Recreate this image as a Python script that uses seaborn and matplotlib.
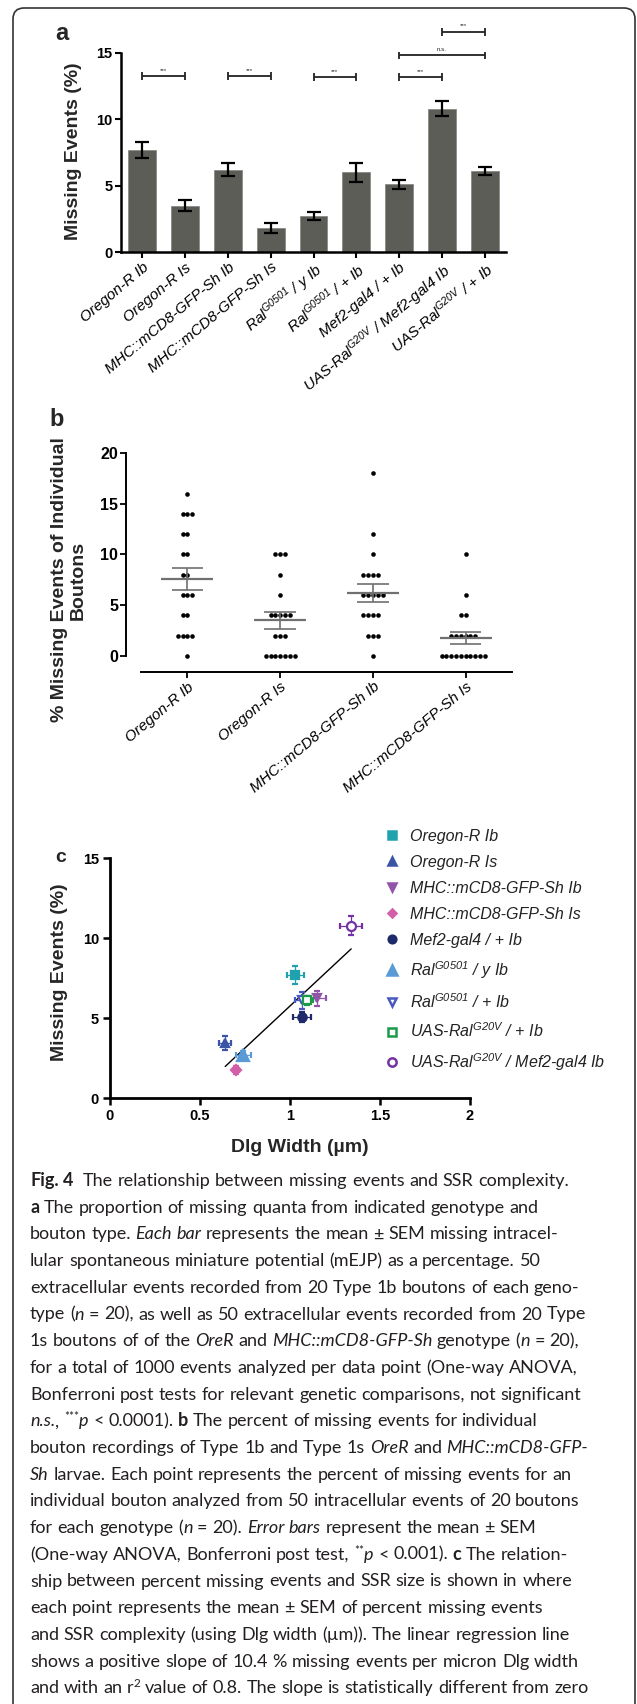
import numpy as np
import pandas as pd
import matplotlib
matplotlib.use('Agg')
import matplotlib.pyplot as plt
import matplotlib.transforms as mtransforms
from matplotlib.lines import Line2D
from matplotlib.patches import FancyBboxPatch
import seaborn as sns

W, H, DPI = 637, 1704, 100

# ---- panel a: missing events per genotype (mean +/- SEM)
BAR_LABELS = [
    'Oregon-R Ib', 'Oregon-R Is', 'MHC::mCD8-GFP-Sh Ib', 'MHC::mCD8-GFP-Sh Is',
    r'Ral$^{\mathit{G0501}}$ / y Ib', r'Ral$^{\mathit{G0501}}$ / + Ib', 'Mef2-gal4 / + Ib',
    r'UAS-Ral$^{\mathit{G20V}}$ / Mef2-gal4 Ib', r'UAS-Ral$^{\mathit{G20V}}$ / + Ib',
]
BAR_MEAN = [7.7, 3.5, 6.2, 1.8, 2.7, 6.0, 5.1, 10.8, 6.1]
BAR_SEM = [0.6, 0.4, 0.5, 0.35, 0.3, 0.7, 0.35, 0.55, 0.3]
SIG_PAIRS = [(0, 1), (2, 3), (4, 5), (6, 7), (6, 8), (7, 8)]
SIG_LEVEL = [13.25, 13.25, 13.15, 13.15, 14.8, 16.6]
SIG_TEXT = ['***', '***', '***', '***', 'n.s.', '***']

# ---- panel b: individual boutons
BOUTON_GROUPS = ['Oregon-R Ib', 'Oregon-R Is', 'MHC::mCD8-GFP-Sh Ib', 'MHC::mCD8-GFP-Sh Is']
OREGON_IB = [16, 14, 14, 14, 12, 12, 10, 10, 8, 8, 6, 6, 6, 4, 4, 2, 2, 2, 2, 0]
OREGON_IS = [10, 10, 10, 8, 6, 4, 4, 4, 4, 4, 2, 2, 2, 0, 0, 0, 0, 0, 0, 0]
MHC_IB = [18, 12, 10, 8, 8, 8, 8, 6, 6, 6, 6, 6, 4, 4, 4, 4, 2, 2, 2, 0]
MHC_IS = [10, 6, 4, 4, 2, 2, 2, 2, 2, 2, 0, 0, 0, 0, 0, 0, 0, 0, 0, 0]

# ---- panel c: missing events vs Dlg width
SSR_LABELS = [
    'Oregon-R Ib', 'Oregon-R Is', 'MHC::mCD8-GFP-Sh Ib', 'MHC::mCD8-GFP-Sh Is',
    'Mef2-gal4 / + Ib', r'Ral$^{\mathit{G0501}}$ / y Ib', r'Ral$^{\mathit{G0501}}$ / + Ib',
    r'UAS-Ral$^{\mathit{G20V}}$ / + Ib', r'UAS-Ral$^{\mathit{G20V}}$ / Mef2-gal4 Ib',
]
DLG_WIDTH = [1.03, 0.64, 1.15, 0.70, 1.065, 0.74, 1.065, 1.095, 1.34]
DLG_SEM = [0.046, 0.034, 0.05, 0.017, 0.05, 0.042, 0.04, 0.03, 0.06]
MISSING = [7.7, 3.46, 6.23, 1.77, 5.08, 2.71, 6.1, 6.1, 10.77]
MISSING_SEM = [0.57, 0.44, 0.45, 0.26, 0.3, 0.25, 0.55, 0.3, 0.59]

SSR_COLORS = ['#1fa2ad', '#3a55a6', '#9254a9', '#d25fa8', '#1e2a6c',
              '#5b9bd5', '#4858c0', '#1b9a4b', '#7433a3']
SSR_MARKERS = ['s', '^', 'v', 'D', 'o', '^', 'v', 's', 'o']
SSR_OPEN = [False, False, False, False, False, False, True, True, True]
SSR_MSIZE = [6, 6, 6, 5, 6, 8, 6, 6, 6.5]

# ---- caption (one list per printed line: (text, style))
CAPTION_LINES = [
    [('Fig. 4', 'b'), ('  The relationship between missing events and SSR complexity.', 'n')],
    [('a', 'b'), (' The proportion of missing quanta from indicated genotype and', 'n')],
    [('bouton type. ', 'n'), ('Each bar', 'i'), (' represents the mean \u00b1 SEM missing intracel-', 'n')],
    [('lular spontaneous miniature potential (mEJP) as a percentage. 50', 'n')],
    [('extracellular events recorded from 20 Type 1b boutons of each geno-', 'n')],
    [('type (', 'n'), ('n', 'i'), (' = 20), as well as 50 extracellular events recorded from 20 Type', 'n')],
    [('1s boutons of of the ', 'n'), ('OreR', 'i'), (' and ', 'n'), ('MHC::mCD8-GFP-Sh', 'i'),
     (' genotype (', 'n'), ('n', 'i'), (' = 20),', 'n')],
    [('for a total of 1000 events analyzed per data point (One-way ANOVA,', 'n')],
    [('Bonferroni post tests for relevant genetic comparisons, not significant', 'n')],
    [('n.s.', 'i'), (', ', 'n'), ('***', 's'), ('p', 'i'), (' < 0.0001). ', 'n'), ('b', 'b'),
     (' The percent of missing events for individual', 'n')],
    [('bouton recordings of Type 1b and Type 1s ', 'n'), ('OreR', 'i'), (' and ', 'n'), ('MHC::mCD8-GFP-', 'i')],
    [('Sh', 'i'), (' larvae. Each point represents the percent of missing events for an', 'n')],
    [('individual bouton analyzed from 50 intracellular events of 20 boutons', 'n')],
    [('for each genotype (', 'n'), ('n', 'i'), (' = 20). ', 'n'), ('Error bars', 'i'),
     (' represent the mean \u00b1 SEM', 'n')],
    [('(One-way ANOVA, Bonferroni post test, ', 'n'), ('**', 's'), ('p', 'i'), (' < 0.001). ', 'n'),
     ('c', 'b'), (' The relation-', 'n')],
    [('ship between percent missing events and SSR size is shown in where', 'n')],
    [('each point represents the mean \u00b1 SEM of percent missing events', 'n')],
    [('and SSR complexity (using Dlg width (\u00b5m)). The linear regression line', 'n')],
    [('shows a positive slope of 10.4 % missing events per micron Dlg width', 'n')],
    [('and with an r', 'n'), ('2', 's'), (' value of 0.8. The slope is statistically different from zero', 'n')],
]

sns.set_style('ticks')
plt.rcParams['font.family'] = ['Liberation Sans', 'DejaVu Sans']
plt.rcParams['mathtext.fontset'] = 'custom'
plt.rcParams['mathtext.it'] = 'Liberation Sans:italic'
plt.rcParams['mathtext.rm'] = 'Liberation Sans:italic'
plt.rcParams['axes.edgecolor'] = 'black'
plt.rcParams['xtick.color'] = 'black'
plt.rcParams['ytick.color'] = 'black'

fig = plt.figure(figsize=(W / DPI, H / DPI), dpi=DPI)
fig.patch.set_facecolor('white')


def fx(x):
    return x / W


def fy(y):
    return 1 - y / H


def box(left, top, right, bottom):
    return [left / W, 1 - bottom / H, (right - left) / W, (bottom - top) / H]


TICK_FONT = dict(fontweight='bold', fontsize=10.5)
LABEL_FONT = dict(fontweight='bold', fontsize=14)

# outer rounded frame (bottom edge runs just past the image)
px = mtransforms.Affine2D().scale(1 / W, 1 / H) + fig.transFigure
fig.patches.append(FancyBboxPatch((13, H - 1714), 622, 1706, boxstyle='round,pad=0,rounding_size=11',
                                  transform=px, fill=False, ec='#333333', lw=1.2))

# ================= panel a
ax_a = fig.add_axes(box(121, 13, 506, 252))
sns.barplot(x=BAR_LABELS, y=BAR_MEAN, color='#5c5d57', saturation=1, width=0.65,
            edgecolor='#8a8b86', linewidth=0.6, errorbar=None, ax=ax_a)
ax_a.errorbar(np.arange(len(BAR_MEAN)), BAR_MEAN, yerr=BAR_SEM, fmt='none', ecolor='black',
              elinewidth=1.6, capsize=5, capthick=1.6)
for (i, j), lvl, txt in zip(SIG_PAIRS, SIG_LEVEL, SIG_TEXT):
    ax_a.plot([i, j], [lvl, lvl], color='#222222', lw=1.3, solid_capstyle='butt')
    ax_a.vlines([i, j], lvl - 0.3, lvl + 0.3, color='#222222', lw=1.3)
    ax_a.text((i + j) / 2, lvl + 0.25, txt, ha='center', va='bottom', fontsize=4.5)
ax_a.set_xlim(-0.5, 8.5)
ax_a.set_ylim(0, 18)
ax_a.set_yticks([0, 5, 10, 15])
sns.despine(ax=ax_a)
ax_a.spines['left'].set_bounds(0, 15)
for s in ('left', 'bottom'):
    ax_a.spines[s].set_linewidth(1.8)
ax_a.tick_params(axis='both', length=4, width=1.5, pad=2)
ax_a.set_xlabel('')
ax_a.set_ylabel('')
for t in ax_a.get_yticklabels():
    t.set(**TICK_FONT)
for t in ax_a.get_xticklabels():
    t.set(rotation=40, ha='right', va='top', rotation_mode='anchor', fontstyle='italic', fontsize=11)
fig.text(fx(74), fy(151), 'Missing Events (%)', rotation=90, ha='center', va='center', **LABEL_FONT)
fig.text(fx(62), fy(33), 'a', ha='center', va='center', fontweight='bold', fontsize=17)

# ================= panel b
ax_b = fig.add_axes(box(141, 448, 512, 661))
bouton_df = pd.DataFrame({
    'group': np.repeat(BOUTON_GROUPS, [len(OREGON_IB), len(OREGON_IS), len(MHC_IB), len(MHC_IS)]),
    'value': OREGON_IB + OREGON_IS + MHC_IB + MHC_IS,
})
sns.swarmplot(data=bouton_df, x='group', y='value', order=BOUTON_GROUPS, color='black',
              size=3.3, linewidth=0, ax=ax_b)
stats = bouton_df.groupby('group')['value'].agg(['mean', 'sem']).reindex(BOUTON_GROUPS)
pos = np.arange(len(BOUTON_GROUPS))
grey = '#707070'
ax_b.hlines(stats['mean'], pos - 0.28, pos + 0.28, color=grey, lw=1.6, zorder=4)
ax_b.vlines(pos, stats['mean'] - stats['sem'], stats['mean'] + stats['sem'], color=grey, lw=1.2, zorder=4)
ax_b.hlines(stats['mean'] + stats['sem'], pos - 0.17, pos + 0.17, color=grey, lw=1.2, zorder=4)
ax_b.hlines(stats['mean'] - stats['sem'], pos - 0.17, pos + 0.17, color=grey, lw=1.2, zorder=4)
ax_b.set_xlim(-0.5, 3.5)
ax_b.set_ylim(-0.5, 20.5)
ax_b.set_yticks([0, 5, 10, 15, 20])
sns.despine(ax=ax_b)
ax_b.spines['left'].set_position(('outward', 10.8))
ax_b.spines['bottom'].set_position(('outward', 8))
ax_b.spines['left'].set_bounds(0, 20)
for s in ('left', 'bottom'):
    ax_b.spines[s].set_linewidth(1.4)
ax_b.tick_params(axis='both', length=4, width=1.3, pad=1.5)
ax_b.set_xlabel('')
ax_b.set_ylabel('')
for t in ax_b.get_yticklabels():
    t.set(fontweight='bold', fontsize=11.5)
for t in ax_b.get_xticklabels():
    t.set(rotation=40, ha='right', va='top', rotation_mode='anchor', fontstyle='italic', fontsize=11)
fig.text(fx(69), fy(580), '% Missing Events of Individual\nBoutons', rotation=90, ha='center',
         va='center', multialignment='center', linespacing=1.1, **LABEL_FONT)
fig.text(fx(57), fy(420), 'b', ha='center', va='center', fontweight='bold', fontsize=17)

# ================= panel c
ax_c = fig.add_axes(box(110, 858, 470, 1098))
sns.regplot(x=DLG_WIDTH, y=MISSING, scatter=False, ci=None, truncate=True, color='black',
            line_kws={'lw': 1.0, 'zorder': 1}, ax=ax_c)
handles = []
for i, lab in enumerate(SSR_LABELS):
    c = SSR_COLORS[i]
    face = 'white' if SSR_OPEN[i] else c
    ax_c.errorbar(DLG_WIDTH[i], MISSING[i], xerr=DLG_SEM[i], yerr=MISSING_SEM[i],
                  fmt=SSR_MARKERS[i], color=c, mfc=face, mec=c, ms=SSR_MSIZE[i], mew=1.6,
                  elinewidth=0.9, capsize=2.5, capthick=0.9, zorder=3)
    handles.append(Line2D([], [], ls='none', marker=SSR_MARKERS[i], color=c, mfc=face, mec=c,
                          ms=SSR_MSIZE[i] - 0.5, mew=1.8, label=lab))
ax_c.set_xlim(0, 2)
ax_c.set_ylim(0, 15)
ax_c.set_xticks([0, 0.5, 1, 1.5, 2])
ax_c.set_xticklabels(['0', '0.5', '1', '1.5', '2'])
ax_c.set_yticks([0, 5, 10, 15])
sns.despine(ax=ax_c)
for s in ('left', 'bottom'):
    ax_c.spines[s].set_linewidth(2.0)
ax_c.tick_params(axis='both', length=5, width=1.8, pad=3)
for t in ax_c.get_xticklabels() + ax_c.get_yticklabels():
    t.set(**TICK_FONT)
ax_c.set_xlabel('')
ax_c.set_ylabel('')
leg = ax_c.legend(handles=handles, loc='upper left', bbox_to_anchor=(fx(384), fy(829)),
                  bbox_transform=fig.transFigure, frameon=False, handlelength=1.0,
                  handletextpad=0.6, labelspacing=0.69, borderpad=0, borderaxespad=0,
                  prop={'style': 'italic', 'size': 11.5})
for t in leg.get_texts():
    t.set_color('#222222')
fig.text(fx(59), fy(972), 'Missing Events (%)', rotation=90, ha='center', va='center', **LABEL_FONT)
fig.text(fx(300), fy(1147), 'Dlg Width (\u00b5m)', ha='center', va='center', **LABEL_FONT)
fig.text(fx(61), fy(858), 'c', ha='center', va='center', fontweight='bold', fontsize=14)

# ================= caption
renderer = fig.canvas.get_renderer()
CAP_SIZE = 13
CAP_STYLE = {
    'n': dict(family='Lato', size=CAP_SIZE),
    'i': dict(family='Lato', size=CAP_SIZE, style='italic'),
    'b': dict(family='Lato', size=CAP_SIZE, weight='bold'),
    's': dict(family='Lato', size=CAP_SIZE * 0.65),
}


def text_width(s, style):
    t = fig.text(0, 0, s, **CAP_STYLE[style])
    w = t.get_window_extent(renderer).width
    t.remove()
    return w


space_w = text_width('a a', 'n') - text_width('aa', 'n')
for k, parts in enumerate(CAPTION_LINES):
    base = 1186 + k * 26.7
    x = 30
    for txt, style in parts:
        rise = 6 if style == 's' else 0
        for m, word in enumerate(txt.split(' ')):
            if m > 0:
                x += space_w
            if word:
                t = fig.text(fx(x), fy(base - rise), word, ha='left', va='baseline',
                             color='#231f20', **CAP_STYLE[style])
                x += t.get_window_extent(renderer).width

fig.savefig('out.png', dpi=DPI, facecolor='white')
